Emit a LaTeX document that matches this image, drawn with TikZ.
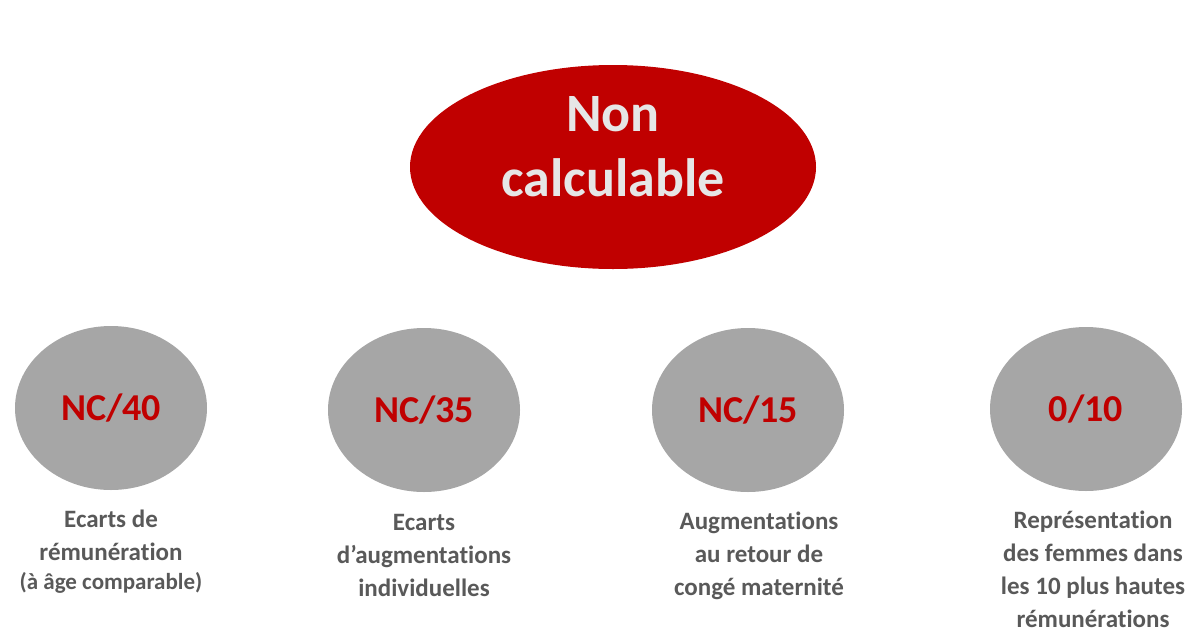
\documentclass[tikz,border=0pt]{standalone}
\usepackage{fontspec}
\setmainfont[Ligatures=NoCommon]{Carlito}
\usepackage{xcolor}
\usetikzlibrary{shapes.geometric}
\definecolor{ncred}{HTML}{C00000}
\definecolor{discgray}{HTML}{A6A6A6}
\definecolor{labelgray}{HTML}{595959}
\definecolor{palegray}{HTML}{E6E6E6}

\begin{document}
\begin{tikzpicture}[
      x=1pt,y=-1pt,
      main/.style={ellipse,fill=ncred,inner sep=0pt,minimum width=406pt,minimum height=204pt},
      maintext/.style={inner sep=0pt,align=center,text=palegray,
                       font=\bfseries\fontsize{54}{65}\selectfont},
      score/.style={ellipse,fill=discgray,inner sep=0pt,minimum width=192pt,minimum height=164pt,
                    text=ncred,font=\bfseries\fontsize{38}{40}\selectfont},
      caption/.style={anchor=north,inner sep=0pt,align=center,text=labelgray,
                      font=\bfseries\fontsize{25}{33}\selectfont}
    ]
    \useasboundingbox (0,0) rectangle (1193,632);
    \node[main] (total) at (613,167) {};
    \node[maintext] (totaltxt) at ([yshift=20pt]total.center) {Non\\calculable};
    \node[score] (ecarts) at (111,408) {NC/40};
    \node[score] (augm) at (424,410) {NC/35};
    \node[score] (conge) at (748,410) {NC/15};
    \node[score] (hautes) at (1086,409) {0/10};
    \node[caption] (ecartslbl) at (111,510)
      {Ecarts de\\rémunération\\[-4pt]{\fontsize{23}{26}\selectfont(à âge comparable)}};
    \node[caption] (augmlbl) at (424,514)
      {Ecarts\\d’augmentations\\individuelles};
    \node[caption] (congelbl) at (759,512)
      {Augmentations\\au retour de\\congé maternité};
    \node[caption] (hauteslbl) at (1093,511)
      {Représentation\\des femmes dans\\les 10 plus hautes\\rémunérations};
  \end{tikzpicture}
\end{document}
